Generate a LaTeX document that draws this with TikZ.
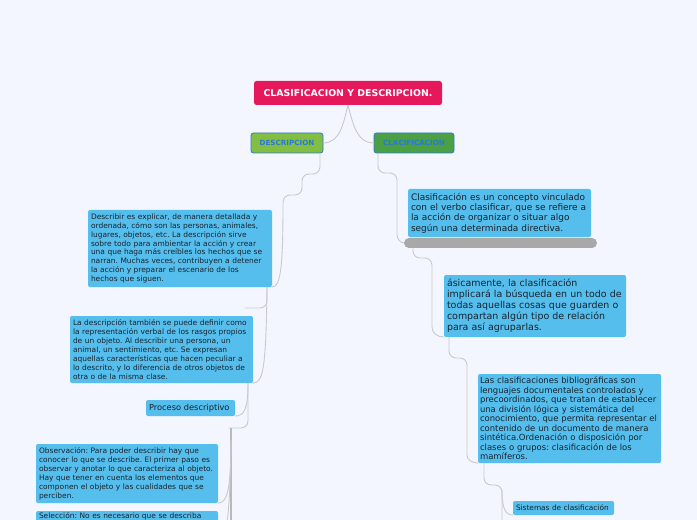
\documentclass[tikz,border=0pt]{standalone}
\usepackage{fontspec}
\setmainfont{DejaVu Sans}
\frenchspacing
\usetikzlibrary{calc}
\definecolor{canvas}{HTML}{F3F6FE}
\definecolor{rootred}{HTML}{E5185B}
\definecolor{leafgreen}{HTML}{82BE41}
\definecolor{darkgreen}{HTML}{4BA046}
\definecolor{edgeblue}{HTML}{2B78D8}
\definecolor{topicblue}{HTML}{56BEEC}
\definecolor{inktext}{HTML}{17232E}
\definecolor{linkgray}{HTML}{C9C9CE}
\definecolor{bargray}{HTML}{A8A8A8}
\tikzset{
  mroot/.style={rectangle,rounded corners=2.5bp,fill=rootred,text=white,anchor=north west,
    outer sep=0pt,inner sep=0pt,font=\bfseries\fontsize{9.4}{11}\selectfont},
  msub/.style={rectangle,rounded corners=2.5bp,draw=edgeblue,line width=0.8bp,text=edgeblue,
    anchor=north west,outer sep=0pt,inner sep=0pt,font=\bfseries\fontsize{7.2}{8}\selectfont},
  mtopic/.style={rectangle,rounded corners=2bp,fill=topicblue,text=inktext,anchor=north west,
    outer sep=0pt,inner xsep=3bp,inner ysep=2bp,align=left},
  link/.style={linkgray,line width=0.9bp,rounded corners=7bp},
}
\begin{document}
\begin{tikzpicture}[x=1bp,y=1bp]
  \useasboundingbox (0,0) rectangle (697,-520);
  \fill[canvas] (0,0) rectangle (697,-520);
  \clip (0,0) rectangle (697,-520);
  % main topics
  \node[mroot,minimum width=188bp,minimum height=24bp] (root) at (254,-81) {CLASIFICACION Y DESCRIPCION.};
  \node[msub,fill=leafgreen,minimum width=72bp,minimum height=20bp] (desc) at (251,-133) {DESCRIPCION};
  \node[msub,fill=darkgreen,minimum width=80bp,minimum height=20bp] (clas) at (374,-133) {CLACIFICACION};
  % left branch
  \node[mtopic,text width=178bp,minimum height=77bp,font=\fontsize{7.5}{8.9}\selectfont] (describir) at (88,-210)
    {Describir es explicar, de manera detallada y\\ordenada, cómo son las personas, animales,\\lugares, objetos, etc. La descripción sirve\\sobre todo para ambientar la acción y crear\\una que haga más creíbles los hechos que se\\narran. Muchas veces, contribuyen a detener\\la acción y preparar el escenario de los\\hechos que siguen.};
  \node[mtopic,text width=177bp,minimum height=67bp,font=\fontsize{7.5}{8.9}\selectfont] (definir) at (70,-316)
    {La descripción también se puede definir como\\la representación verbal de los rasgos propios\\de un objeto. Al describir una persona, un\\animal, un sentimiento, etc. Se expresan\\aquellas características que hacen peculiar a\\lo descrito, y lo diferencia de otros objetos de\\otra o de la misma clase.};
  \node[mtopic,text width=86bp,inner xsep=1.5bp,minimum height=16bp,font=\fontsize{8.3}{9}\selectfont] (proceso) at (146,-400) {\hspace*{1.5bp}Proceso descriptivo};
  \node[mtopic,text width=176bp,minimum height=59bp,font=\fontsize{7.5}{9}\selectfont] (obs) at (36,-444)
    {Observación: Para poder describir hay que\\conocer lo que se describe. El primer paso es\\observar y anotar lo que caracteriza al objeto.\\Hay que tener en cuenta los elementos que\\componen el objeto y las cualidades que se\\perciben.};
  \node[mtopic,text width=176bp,font=\fontsize{7.5}{9}\selectfont] (sel) at (36,-511)
    {Selección: No es necesario que se describa\\\mbox{}\\\mbox{}};
  % right branch
  \node[mtopic,text width=177bp,minimum height=48bp,font=\fontsize{9}{10.3}\selectfont] (clasif) at (408,-189)
    {Clasificación es un concepto vinculado\\con el verbo clasificar, que se refiere a\\la acción de organizar o situar algo\\según una determinada directiva.};
  \node[rectangle,rounded corners=5bp,fill=bargray,anchor=north west,outer sep=0pt,minimum width=193bp,minimum height=10bp,inner sep=0pt] (bar) at (404,-238) {};
  \node[mtopic,text width=176bp,minimum height=62bp,font=\fontsize{9.5}{11}\selectfont] (basic) at (444,-275)
    {ásicamente, la clasificación\\implicará la búsqueda en un todo de\\todas aquellas cosas que guarden o\\compartan algún tipo de relación\\para así agruparlas.};
  \node[mtopic,text width=179bp,inner xsep=2bp,minimum height=89bp,font=\fontsize{8.5}{9.5}\selectfont] (biblio) at (478,-374)
    {Las clasificaciones bibliográficas son\\lenguajes documentales controlados y\\precoordinados, que tratan de establecer\\una división lógica y sistemática del\\conocimiento, que permita representar el\\contenido de un documento de manera\\sintética.Ordenación o disposición por\\clases o grupos: clasificación de los\\mamíferos.};
  \node[mtopic,text width=95bp,minimum height=14bp,inner ysep=1bp,font=\fontsize{7.4}{8}\selectfont] (sistemas) at (513,-501) {Sistemas de clasificación};
  % connectors
  \draw[link] (root.south) to[out=-105,in=0] (desc.east);
  \draw[link] (root.south) to[out=-75,in=180] (clas.west);
  \draw[link] ($(desc.south east)+(-3,0)$) -- (320,-174) -- (302,-174) -- (302,-195) -- (283,-195)
    .. controls (283,-265) and (281,-287) .. (describir.south east);
  \draw[link] ($(describir.south east)+(-5,0)$) -- (267,-308) -- (245,-308);
  \draw[link] ($(describir.south east)+(-5,0)$) .. controls (266,-370) and (263,-383) .. (definir.south east);
  \draw[link] ($(definir.south east)+(-5,0)$) .. controls (248,-410) and (244,-416) .. (proceso.south east);
  \draw[link] ($(definir.south east)+(-5,0)$) -- (248,-428) -- (229,-428);
  \draw[link,line width=1.2bp,bargray!80] (231,-428) -- (231,-530);
  \draw[link] (231,-440) .. controls (231,-495) and (226,-503) .. (obs.south east);
  \draw[link] (231,-440) .. controls (230,-520) and (226,-545) .. (sel.south east);
  \draw[link] ($(clas.south west)+(4,0)$) -- (378,-173) -- (397,-173) -- (397,-228)
    .. controls (397,-238) and (400,-243) .. (bar.west);
  \draw[link] ($(bar.south west)+(9,0)$) -- (413,-258) -- (432,-258) -- (432,-320)
    .. controls (432,-333) and (437,-337) .. (basic.south west);
  \draw[link] ($(basic.south west)+(5,0)$) -- (449,-358) -- (467,-358) -- (467,-448)
    .. controls (467,-460) and (472,-463) .. (biblio.south west);
  \draw[link] ($(biblio.south west)+(6,0)$) -- (484,-485) -- (502,-485) -- (502,-530);
  \draw[link] (502,-490) .. controls (502,-510) and (506,-515) .. (sistemas.south west);
\end{tikzpicture}
\end{document}
